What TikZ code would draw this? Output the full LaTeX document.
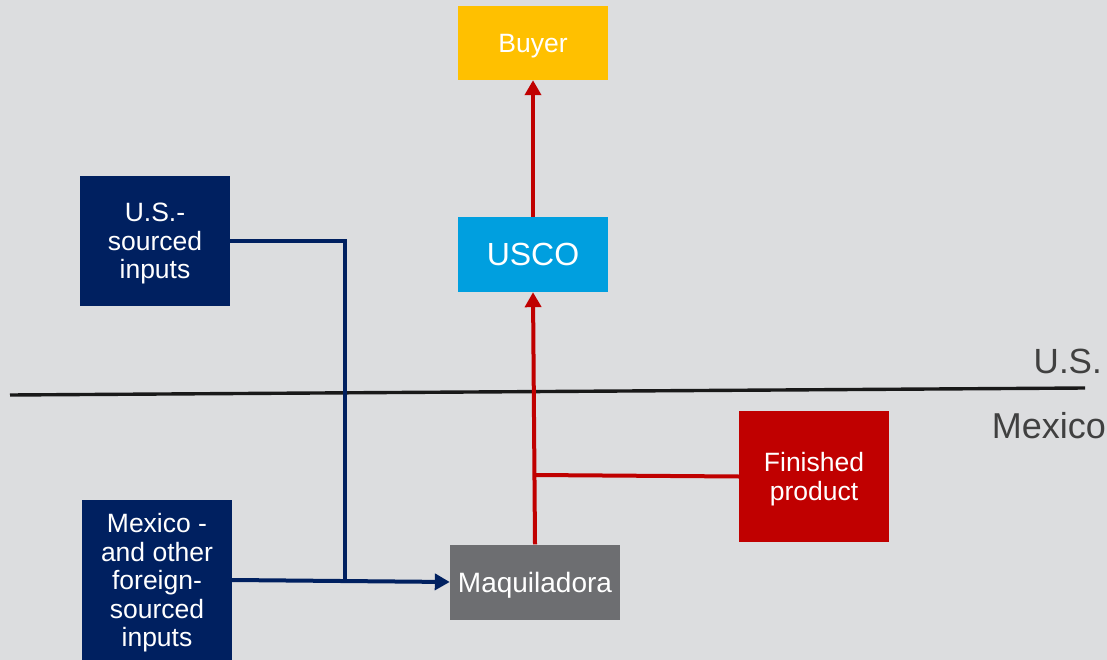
\documentclass[tikz,border=0pt]{standalone}
\usepackage{fontspec}
\setmainfont{Liberation Sans}
\usetikzlibrary{arrows.meta}
\definecolor{bgc}{RGB}{220,221,223}
\definecolor{navyc}{RGB}{0,32,96}
\definecolor{redc}{RGB}{192,0,0}
\definecolor{bluec}{RGB}{0,159,223}
\definecolor{yelc}{RGB}{255,192,0}
\definecolor{greyc}{RGB}{109,110,113}
\definecolor{labc}{RGB}{64,64,64}
\tikzset{
  box/.style={rectangle, inner sep=0pt, align=center, text=white, text depth=0pt,
    font=\fontsize{26.5}{28.5}\selectfont},
  navyline/.style={draw=navyc, line width=4pt},
  redline/.style={draw=redc, line width=4pt},
  tip/.style={-{Triangle[length=15pt,width=16pt]}},
  sidelabel/.style={anchor=east, inner sep=0pt, text=labc}
}
\begin{document}
\begin{tikzpicture}[x=1pt,y=-1pt]
\fill[bgc] (0,0) rectangle (1107,660);
\useasboundingbox (0,0) rectangle (1107,660);
% border line
\coordinate (bl) at (10,395);
\coordinate (br) at (1085,388);
\draw[line width=3.4pt, black!90] (bl) -- (br);
\node[sidelabel, font=\fontsize{35}{40}\selectfont] (uslab) at (1102,361) {U.S.};
\node[sidelabel, font=\fontsize{36}{40}\selectfont] (mxlab) at (1106,426) {Mexico};
% boxes
\node[box, fill=yelc, minimum width=150pt, minimum height=74pt] (buyer) at (533,43) {Buyer};
\node[box, fill=bluec, minimum width=150pt, minimum height=75pt, font=\fontsize{32}{36}\selectfont] (usco) at (533,254.5) {USCO};
\node[box, fill=navyc, minimum width=150pt, minimum height=130pt] (usin) at (155,241) {U.S.-\\sourced\\inputs};
\node[box, fill=navyc, minimum width=150pt, minimum height=160pt] (mxin) at (157,580) {Mexico -\\and other\\foreign-\\sourced\\inputs};
\node[box, fill=greyc, minimum width=170pt, minimum height=75pt, font=\fontsize{28}{32}\selectfont] (maq) at (535,582) {Maquiladora};
\node[box, fill=redc, minimum width=150pt, minimum height=131pt] (fin) at (814,476.5) {Finished\\product};
% navy connectors
\coordinate (jn) at (345,580);
\draw[navyline] (usin.east) -| (jn);
\draw[navyline, tip] (mxin.east) -- (maq.west);
% red connectors
\coordinate (jr) at (535,475);
\draw[redline, tip] (maq.north) -- (usco.south);
\draw[redline, tip] (usco.north) -- (buyer.south);
\draw[redline] (fin.west) -- (jr);
\end{tikzpicture}
\end{document}
